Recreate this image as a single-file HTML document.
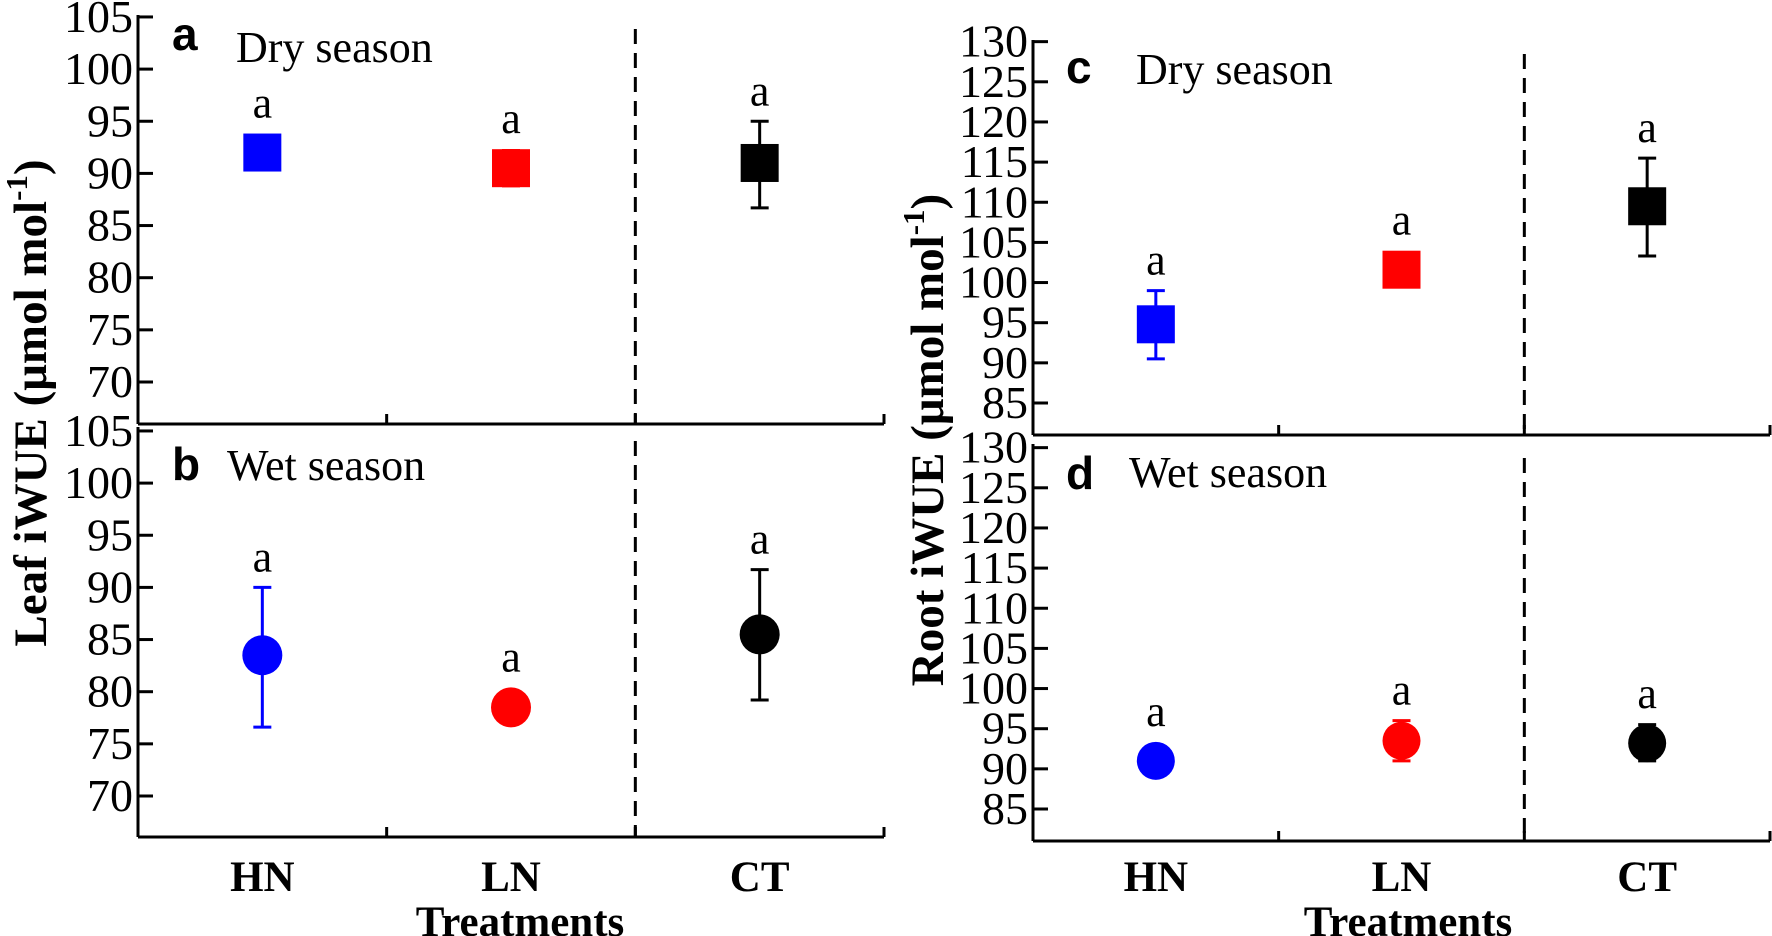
<!DOCTYPE html>
<html><head><meta charset="utf-8"><style>
html,body{margin:0;padding:0;background:#fff;}
svg{display:block;}
text{font-family:"Liberation Serif",serif;fill:#000;}
</style></head><body>
<svg id="chart" width="1772" height="936" viewBox="0 0 1772 936" xmlns="http://www.w3.org/2000/svg"></svg>
<script>
const categories = ["HN", "LN", "CT"];
const colors = ["#0000ff", "#ff0000", "#000000"];
const leafDryMean = [92, 90.5, 91];
const leafDryHi = [92, 92.2, 95];
const leafDryLo = [92, 88.8, 86.7];
const leafWetMean = [83.5, 78.5, 85.5];
const leafWetHi = [90, 78.5, 91.7];
const leafWetLo = [76.6, 78.5, 79.2];
const rootDryMean = [94.8, 101.6, 109.5];
const rootDryHi = [99, 101.6, 115.5];
const rootDryLo = [90.5, 101.6, 103.3];
const rootWetMean = [91, 93.5, 93.2];
const rootWetHi = [91, 96, 95.5];
const rootWetLo = [91, 91, 91];
const leafTicks = [70, 75, 80, 85, 90, 95, 100, 105];
const rootTicks = [85, 90, 95, 100, 105, 110, 115, 120, 125, 130];

const NS = "http://www.w3.org/2000/svg";
const svg = document.getElementById("chart");
function mk(tag, attrs, parent, name) {
  const e = document.createElementNS(NS, tag);
  for (const k in attrs) e.setAttribute(k, attrs[k]);
  
  
  (parent || svg).appendChild(e);
  return e;
}
function txt(s, attrs, name) { const t = mk("text", attrs, svg, name); t.textContent = s; return t; }

function panel(cfg) {
  const {x0, x1, yTop, yBot, vRef, yRef, ppu, ticks, mean, hi, lo, shape, size, letter, season, lx, ly, sx, sy, id} = cfg;
  const y = v => yRef - (v - vRef) * ppu;
  const bw = (x1 - x0) / 3;
  const xc = i => x0 + bw * (i + 0.5);
  const g = mk("g", {}, svg, id);
  mk("line", {x1: x0, y1: yTop, x2: x0, y2: yBot, stroke: "#000", "stroke-width": 3}, g, id + "-y-axis");
  mk("line", {x1: x0, y1: yBot, x2: x1, y2: yBot, stroke: "#000", "stroke-width": 3}, g, id + "-x-axis");
  ticks.forEach(t => {
    mk("line", {x1: x0, y1: y(t), x2: x0 + 15, y2: y(t), stroke: "#000", "stroke-width": 3}, g, id + "-y-tick");
    const l = mk("text", {x: x0 - 5, y: y(t) + 15, "text-anchor": "end", "font-size": 46}, g, id + "-y-tick-label");
    l.textContent = t;
  });
  for (let i = 1; i <= 3; i++) {
    const tx = x0 + bw * i;
    mk("line", {x1: tx, y1: yBot, x2: tx, y2: yBot - 10, stroke: "#000", "stroke-width": 3}, g, id + "-x-tick");
  }
  mk("line", {x1: x0 + bw * 2, y1: yTop + 14, x2: x0 + bw * 2, y2: yBot, stroke: "#000", "stroke-width": 3, "stroke-dasharray": "15,9"}, g, id + "-separator");
  const L = mk("text", {x: lx, y: ly, "font-size": 46, "font-weight": "bold", style: "font-family:'Liberation Sans',sans-serif"}, g, id + "-panel-letter");
  L.textContent = letter;
  const S = mk("text", {x: sx, y: sy, "font-size": 44}, g, id + "-season-label");
  S.textContent = season;
  categories.forEach((c, i) => {
    const cx = xc(i), col = colors[i];
    if (hi[i] !== lo[i]) {
      mk("line", {x1: cx, y1: y(hi[i]), x2: cx, y2: y(lo[i]), stroke: col, "stroke-width": 3}, g, id + "-error-bar-" + c.toLowerCase());
      mk("line", {x1: cx - 9, y1: y(hi[i]), x2: cx + 9, y2: y(hi[i]), stroke: col, "stroke-width": 3}, g, id + "-error-cap-" + c.toLowerCase());
      mk("line", {x1: cx - 9, y1: y(lo[i]), x2: cx + 9, y2: y(lo[i]), stroke: col, "stroke-width": 3}, g, id + "-error-cap-" + c.toLowerCase());
    }
    if (shape === "square") {
      mk("rect", {x: cx - size / 2, y: y(mean[i]) - size / 2, width: size, height: size, fill: col}, g, id + "-point-" + c.toLowerCase());
    } else {
      mk("circle", {cx: cx, cy: y(mean[i]), r: size / 2, fill: col}, g, id + "-point-" + c.toLowerCase());
    }
    const top = Math.min(y(hi[i]), y(mean[i]) - size / 2);
    const a = mk("text", {x: cx, y: top - 16, "text-anchor": "middle", "font-size": 44}, g, id + "-significance-" + c.toLowerCase());
    a.textContent = "a";
  });
  return xc;
}

const leafPPU = 10.43, rootPPU = 8.03;
const xcL = panel({id: "panel-a", x0: 138, x1: 884, yTop: 15, yBot: 424, vRef: 70, yRef: 382, ppu: leafPPU, ticks: leafTicks, mean: leafDryMean, hi: leafDryHi, lo: leafDryLo, shape: "square", size: 38, letter: "a", season: "Dry season", lx: 172, ly: 50, sx: 236, sy: 62});
panel({id: "panel-b", x0: 138, x1: 884, yTop: 427, yBot: 837, vRef: 70, yRef: 796, ppu: leafPPU, ticks: leafTicks, mean: leafWetMean, hi: leafWetHi, lo: leafWetLo, shape: "circle", size: 40, letter: "b", season: "Wet season", lx: 172, ly: 480, sx: 227, sy: 480});
const xcR = panel({id: "panel-c", x0: 1033, x1: 1770, yTop: 40, yBot: 435, vRef: 85, yRef: 403, ppu: rootPPU, ticks: rootTicks, mean: rootDryMean, hi: rootDryHi, lo: rootDryLo, shape: "square", size: 38, letter: "c", season: "Dry season", lx: 1066, ly: 83, sx: 1136, sy: 84});
panel({id: "panel-d", x0: 1033, x1: 1770, yTop: 444, yBot: 841, vRef: 85, yRef: 809, ppu: rootPPU, ticks: rootTicks, mean: rootWetMean, hi: rootWetHi, lo: rootWetLo, shape: "circle", size: 38, letter: "d", season: "Wet season", lx: 1066, ly: 489, sx: 1129, sy: 487});

categories.forEach((c, i) => {
  txt(c, {x: xcL(i), y: 891, "text-anchor": "middle", "font-size": 43, "font-weight": "bold"}, "x-label-left-" + c.toLowerCase());
  txt(c, {x: xcR(i), y: 891, "text-anchor": "middle", "font-size": 43, "font-weight": "bold"}, "x-label-right-" + c.toLowerCase());
});
txt("Treatments", {x: 520, y: 936, "text-anchor": "middle", "font-size": 43, "font-weight": "bold"}, "x-axis-title-left");
txt("Treatments", {x: 1408, y: 936, "text-anchor": "middle", "font-size": 43, "font-weight": "bold"}, "x-axis-title-right");

const yl = txt("", {transform: "translate(46,403) rotate(-90)", "text-anchor": "middle", "font-size": 47, "font-weight": "bold"}, "y-axis-title-left");
yl.innerHTML = 'Leaf iWUE (μmol mol<tspan dy="-19" font-size="31">-1</tspan><tspan dy="19">)</tspan>';
const yr = txt("", {transform: "translate(943,440) rotate(-90)", "text-anchor": "middle", "font-size": 47, "font-weight": "bold"}, "y-axis-title-right");
yr.innerHTML = 'Root iWUE (μmol mol<tspan dy="-19" font-size="31">-1</tspan><tspan dy="19">)</tspan>';
</script>
</body></html>
